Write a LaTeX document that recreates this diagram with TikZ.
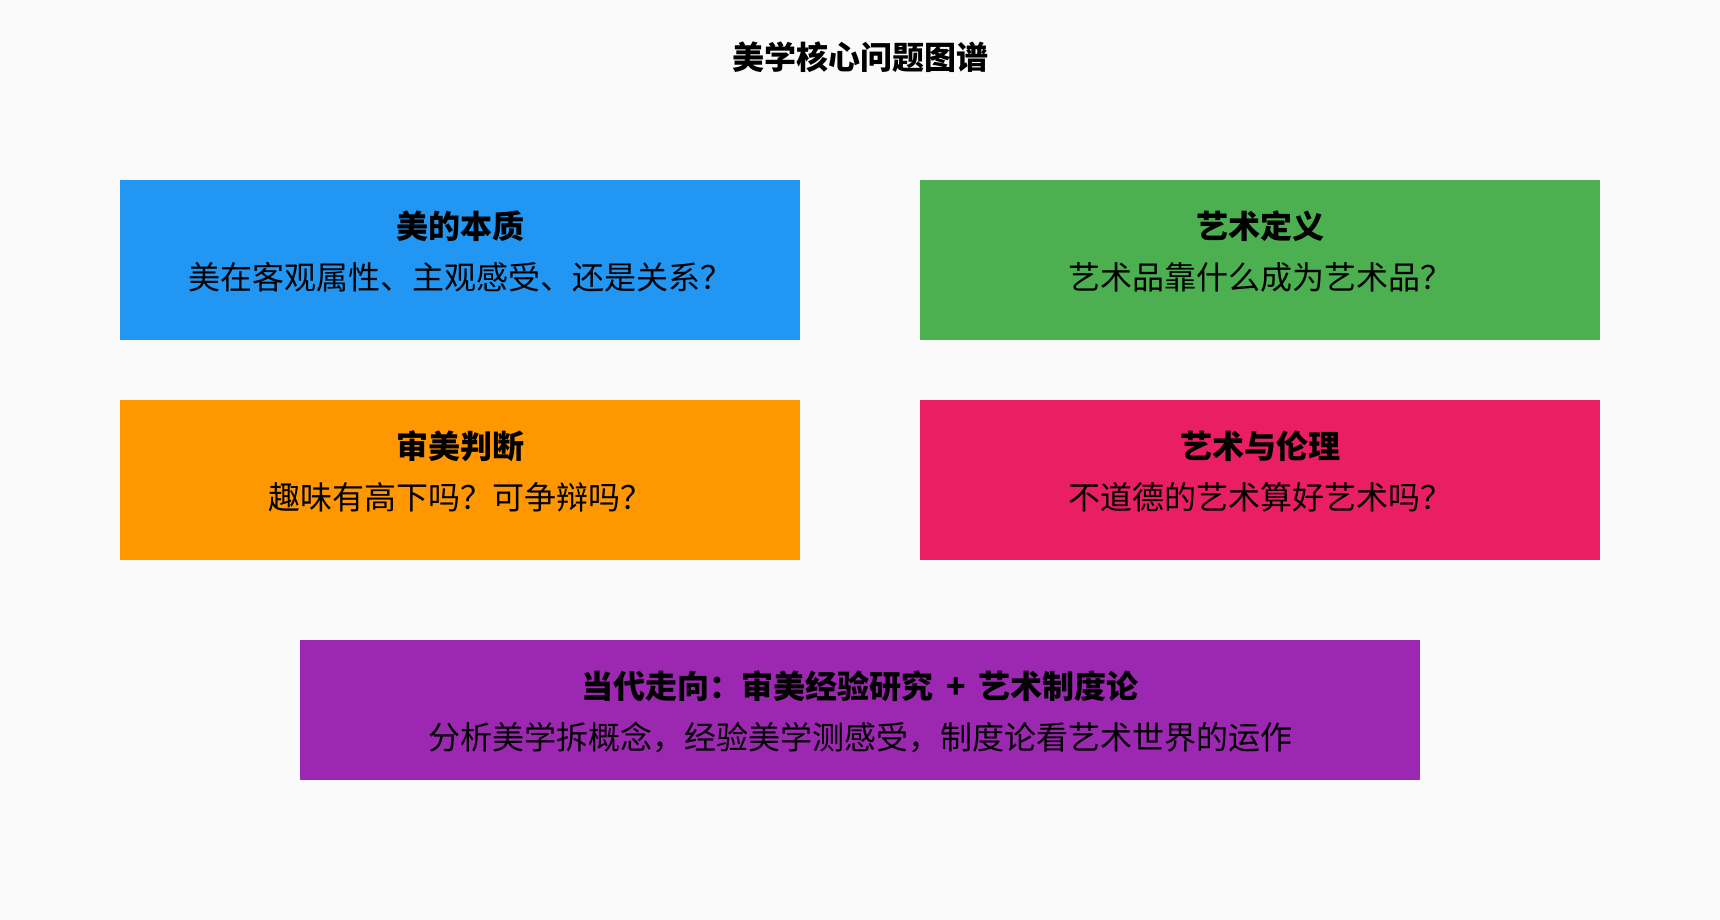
\documentclass[tikz,border=0pt]{standalone}
\usepackage{fontspec}
\setmainfont{Noto Sans CJK SC}
\usepackage{tikz}
\usetikzlibrary{shapes}
\definecolor{bg}{HTML}{FAFAFA}
\definecolor{blue1}{HTML}{2196F3}
\definecolor{green1}{HTML}{4CAF50}
\definecolor{orange1}{HTML}{FF9800}
\definecolor{pink1}{HTML}{E91E63}
\definecolor{purple1}{HTML}{9C27B0}
\tikzset{
  card/.style={rectangle,inner sep=0pt,minimum width=680pt,minimum height=160pt},
  head/.style={inner sep=0pt,font=\fontsize{32}{38}\selectfont\bfseries},
  sub/.style={inner sep=0pt,font=\fontsize{32}{38}\selectfont}
}

\begin{document}
\begin{tikzpicture}[x=1pt,y=-1pt]
  \fill[bg] (0,0) rectangle (1720,920);
  \useasboundingbox (0,0) rectangle (1720,920);
  \node[head] (0) at (860,57) {美学核心问题图谱};
  \node[card,fill=blue1] (1) at (460,260) {};
  \node[card,fill=green1] (2) at (1260,260) {};
  \node[card,fill=orange1] (3) at (460,480) {};
  \node[card,fill=pink1] (4) at (1260,480) {};
  \node[card,fill=purple1,minimum width=1120pt,minimum height=140pt] (5) at (860,710) {};
  \node[head] (1a) at (460,226) {美的本质};
  \node[sub] (1b) at (460,277) {美在客观属性、主观感受、还是关系？};
  \node[head] (2a) at (1260,226) {艺术定义};
  \node[sub] (2b) at (1260,277) {艺术品靠什么成为艺术品？};
  \node[head] (3a) at (460,446) {审美判断};
  \node[sub] (3b) at (460,497) {趣味有高下吗？可争辩吗？};
  \node[head] (4a) at (1260,446) {艺术与伦理};
  \node[sub] (4b) at (1260,497) {不道德的艺术算好艺术吗？};
  \node[head] (5a) at (860,686) {当代走向：审美经验研究\hspace{5pt} + \hspace{5pt}艺术制度论};
  \node[sub] (5b) at (860,737) {分析美学拆概念，经验美学测感受，制度论看艺术世界的运作};
\end{tikzpicture}
\end{document}
